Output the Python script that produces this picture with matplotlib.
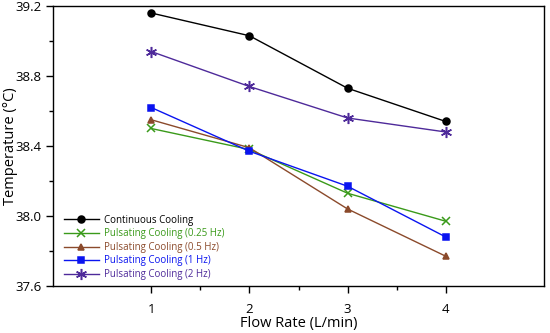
import matplotlib
matplotlib.use("Agg")
import matplotlib.pyplot as plt
from matplotlib.ticker import MultipleLocator, FixedLocator

plt.rcParams['font.family'] = ['Open Sans', 'DejaVu Sans']

flow = [1, 2, 3, 4]
continuous = [39.16, 39.03, 38.73, 38.54]
p025 = [38.50, 38.38, 38.13, 37.97]
p05 = [38.55, 38.39, 38.04, 37.77]
p1 = [38.62, 38.37, 38.17, 37.88]
p2 = [38.94, 38.74, 38.56, 38.48]

labels = ["Continuous Cooling", "Pulsating Cooling (0.25 Hz)", "Pulsating Cooling (0.5 Hz)",
          "Pulsating Cooling (1 Hz)", "Pulsating Cooling (2 Hz)"]
colors = ["#000000", "#3a9a1a", "#8b4a2b", "#0a14f0", "#4e2a9a"]
markers = ["o", "x", "^", "s", (6, 2, 0)]
msizes = [5, 6, 5, 5, 8]
series = [continuous, p025, p05, p1, p2]

fig = plt.figure(figsize=(5.5, 3.33), dpi=100)
ax = fig.add_axes([53/550, 1-286/333, (544-53)/550, (286-6)/333])

for y, lab, c, m, ms in zip(series, labels, colors, markers, msizes):
    ax.plot(flow, y, color=c, marker=m, markersize=ms, linewidth=1.0, label=lab,
            markeredgewidth=1.1)

ax.set_xlim(0, 5)
ax.set_ylim(37.6, 39.2)
ax.xaxis.set_major_locator(FixedLocator([1, 2, 3, 4]))
ax.xaxis.set_minor_locator(FixedLocator([1.5, 2.5, 3.5]))
ax.yaxis.set_major_locator(MultipleLocator(0.4))
ax.yaxis.set_minor_locator(MultipleLocator(0.2))
ax.yaxis.set_major_formatter(matplotlib.ticker.FormatStrFormatter('%.1f'))
ax.tick_params(which='major', length=5, width=1, labelsize=9.5, direction='out')
ax.tick_params(which='minor', length=3, width=1, direction='out')
ax.tick_params(axis='x', pad=7)
ax.tick_params(axis='y', pad=3)
for s in ax.spines.values():
    s.set_linewidth(1.0)

ax.set_xlabel("Flow Rate (L/min)", fontsize=10.5, va='center')
ax.xaxis.set_label_coords(0.5, (286-323)/280)
ax.set_ylabel("Temperature (°C)", fontsize=10.5, va='center')
ax.yaxis.set_label_coords((11-53)/491, 0.5)

leg = ax.legend(loc='upper left', frameon=False, fontsize=7, handlelength=3.6,
                labelspacing=0.26, borderaxespad=0.0, handletextpad=0.5,
                bbox_to_anchor=((60-53)/491, (286-211)/280))
for t, c in zip(leg.get_texts(), colors):
    t.set_color(c)

fig.savefig("out.png", dpi=100)
